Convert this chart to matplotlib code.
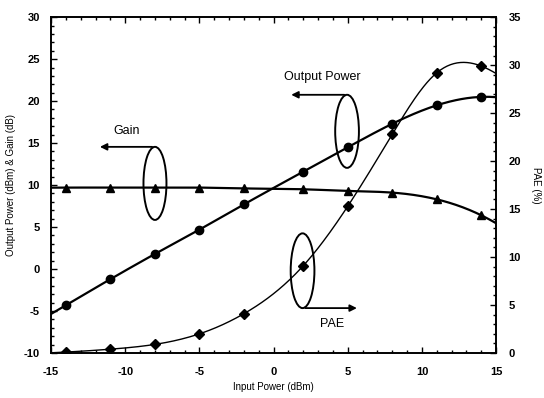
import numpy as np
import matplotlib
matplotlib.use("Agg")
import matplotlib.pyplot as plt
from matplotlib.patches import Ellipse
from matplotlib.ticker import MultipleLocator

plt.rcParams['font.family'] = ['Liberation Sans', 'DejaVu Sans']
plt.rcParams['axes.unicode_minus'] = False

input_power = [-14, -11, -8, -5, -2, 2, 5, 8, 11, 14]
output_power = [-4.3, -1.2, 1.8, 4.7, 7.7, 11.6, 14.5, 17.3, 19.5, 20.5]
gain = [9.7, 9.7, 9.7, 9.7, 9.6, 9.5, 9.3, 9.1, 8.3, 6.4]
pae = [0.1, 0.4, 0.9, 2.0, 4.1, 9.1, 15.3, 22.8, 29.2, 29.9]


def spline(x, y, xs, end_slopes=None):
    """Cubic spline through the points (drawing only).
    Not-a-knot ends by default, or clamped ends if end_slopes is given."""
    x = np.asarray(x, float); y = np.asarray(y, float)
    n = len(x)
    h = np.diff(x)
    A = np.zeros((n, n)); b = np.zeros(n)
    if end_slopes is None:
        A[0, 0] = h[1]; A[0, 1] = -(h[0] + h[1]); A[0, 2] = h[0]
        A[-1, -3] = h[-1]; A[-1, -2] = -(h[-2] + h[-1]); A[-1, -1] = h[-2]
    else:
        s0, sn = end_slopes
        A[0, 0] = 2 * h[0]; A[0, 1] = h[0]
        b[0] = 3 * ((y[1] - y[0]) / h[0] - s0)
        A[-1, -2] = h[-1]; A[-1, -1] = 2 * h[-1]
        b[-1] = 3 * (sn - (y[-1] - y[-2]) / h[-1])
    for i in range(1, n - 1):
        A[i, i - 1] = h[i - 1]
        A[i, i] = 2 * (h[i - 1] + h[i])
        A[i, i + 1] = h[i]
        b[i] = 3 * ((y[i + 1] - y[i]) / h[i] - (y[i] - y[i - 1]) / h[i - 1])
    c = np.linalg.solve(A, b)
    bb = np.zeros(n - 1); d = np.zeros(n - 1)
    for i in range(n - 1):
        bb[i] = (y[i + 1] - y[i]) / h[i] - h[i] * (2 * c[i] + c[i + 1]) / 3
        d[i] = (c[i + 1] - c[i]) / (3 * h[i])
    idx = np.clip(np.searchsorted(x, xs) - 1, 0, n - 2)
    dx = xs - x[idx]
    return y[idx] + bb[idx] * dx + c[idx] * dx ** 2 + d[idx] * dx ** 3


fig = plt.figure(figsize=(5.44, 3.98), dpi=100)
ax = fig.add_axes([0.094, 0.113, 0.818, 0.844])
ax2 = ax.twinx()

xs = np.linspace(-15, 15, 400)
ax.plot(xs, spline(input_power, output_power, xs), color='black', lw=1.6)
ax.plot(input_power, output_power, 'o', color='black', ms=6)
ax.plot(xs, spline(input_power, gain, xs), color='black', lw=1.6)
ax.plot(input_power, gain, '^', color='black', ms=6)
ax2.plot(xs, spline(input_power, pae, xs, end_slopes=(0.08, -0.6)), color='black', lw=1.0)
ax2.plot(input_power, pae, 'D', color='black', ms=5)

ax.set_xlim(-15, 15)
ax.set_ylim(-10, 30)
ax2.set_ylim(0, 35)

for a in (ax, ax2):
    a.tick_params(direction='in', which='both', labelsize=8, width=1)
    a.tick_params(which='major', length=4)
    a.tick_params(which='minor', length=2)
ax.tick_params(top=True, which='both')
ax.xaxis.set_major_locator(MultipleLocator(5))
ax.xaxis.set_minor_locator(MultipleLocator(1))
ax.yaxis.set_major_locator(MultipleLocator(5))
ax.yaxis.set_minor_locator(MultipleLocator(1))
ax2.yaxis.set_major_locator(MultipleLocator(5))
ax2.yaxis.set_minor_locator(MultipleLocator(1))
for lab in ax.get_xticklabels() + ax.get_yticklabels() + ax2.get_yticklabels():
    lab.set_fontweight('bold')
ax.tick_params(axis='x', pad=10)
ax.tick_params(axis='y', pad=8)
ax2.tick_params(axis='y', pad=9)

for sp in list(ax.spines.values()) + list(ax2.spines.values()):
    sp.set_linewidth(1.2)

ax.set_xlabel('Input Power (dBm)', fontsize=7)
ax.set_ylabel('Output Power (dBm) & Gain (dB)', fontsize=7, labelpad=6)
ax2.set_ylabel('PAE (%)', fontsize=7, rotation=270, labelpad=14)

# Annotations (left-axis coordinates)
arrow_kw = dict(arrowstyle='-|>', color='black', lw=1.3, mutation_scale=10)
ax.add_patch(Ellipse((-8, 10.2), 1.55, 8.7, fill=False, lw=1.4, color='black'))
ax.annotate('', xy=(-11.9, 14.55), xytext=(-8, 14.55), arrowprops=arrow_kw)
ax.text(-9.9, 16.4, 'Gain', fontsize=9, ha='center', va='center')

ax.add_patch(Ellipse((4.95, 16.4), 1.6, 8.7, fill=False, lw=1.4, color='black'))
ax.annotate('', xy=(1.0, 20.75), xytext=(4.95, 20.75), arrowprops=arrow_kw)
ax.text(3.3, 22.9, 'Output Power', fontsize=9, ha='center', va='center')

ax.add_patch(Ellipse((1.95, -0.2), 1.6, 8.9, fill=False, lw=1.4, color='black'))
ax.annotate('', xy=(5.8, -4.65), xytext=(1.95, -4.65), arrowprops=arrow_kw)
ax.text(3.95, -6.5, 'PAE', fontsize=9, ha='center', va='center')

fig.savefig('out.png', dpi=100)
